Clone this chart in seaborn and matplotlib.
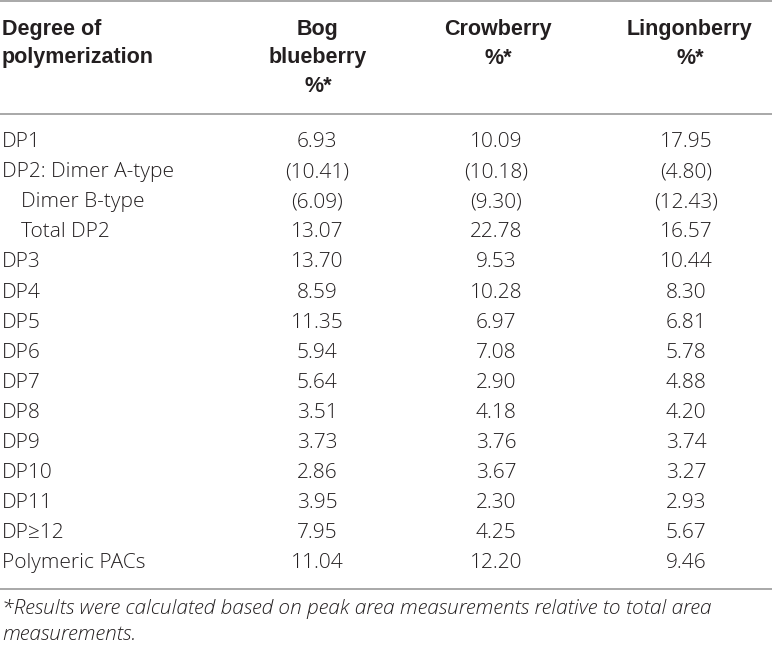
import matplotlib.pyplot as plt
import seaborn as sns

# Table content
header_label = "Degree of\npolymerization"
species = ["Bog\nblueberry\n%*", "Crowberry\n%*", "Lingonberry\n%*"]
row_labels = ["DP1", "DP2: Dimer A-type", "Dimer B-type", "Total DP2", "DP3", "DP4",
              "DP5", "DP6", "DP7", "DP8", "DP9", "DP10", "DP11", "DP\u226512",
              "Polymeric PACs"]
indented = ["Dimer B-type", "Total DP2"]
bog_blueberry = ["6.93", "(10.41)", "(6.09)", "13.07", "13.70", "8.59", "11.35", "5.94",
                 "5.64", "3.51", "3.73", "2.86", "3.95", "7.95", "11.04"]
crowberry = ["10.09", "(10.18)", "(9.30)", "22.78", "9.53", "10.28", "6.97", "7.08",
             "2.90", "4.18", "3.76", "3.67", "2.30", "4.25", "12.20"]
lingonberry = ["17.95", "(4.80)", "(12.43)", "16.57", "10.44", "8.30", "6.81", "5.78",
               "4.88", "4.20", "3.74", "3.27", "2.93", "5.67", "9.46"]
footnote = ("*Results were calculated based on peak area measurements relative to total area\n"
            "measurements.")

sns.set_style("white")
plt.rcParams['font.family'] = ['Open Sans', 'DejaVu Sans']

fig = plt.figure(figsize=(7.72, 6.46), dpi=100)
ax = fig.add_axes([0, 0, 1, 1])
ax.set_xlim(0, 772)
ax.set_ylim(646, 0)
ax.axis('off')

ink = '#231f20'
rule = '#9a9a9a'
fs = 15

# horizontal rules
for y in [1, 114, 589]:
    ax.axhline(y, color=rule, lw=1.2)

col_x = [317, 496, 686]
head_x = [318, 498, 690]


def lines(x, y, s, step, **kw):
    for k, part in enumerate(s.split('\n')):
        ax.text(x, y + k * step, part, va='center', color=ink, **kw)


# header
lines(2, 29, header_label, 29, ha='left', fontsize=15.5, fontweight='bold',
      family='Liberation Sans')
for x, name in zip(head_x, species):
    lines(x, 29, name, 29, ha='center', fontsize=15.5, fontweight='bold',
          family='Liberation Sans')

# body
y0, dy = 142, 30.1
for i, lab in enumerate(row_labels):
    y = y0 + i * dy
    x = 21 if lab in indented else 2
    ax.text(x, y, lab, ha='left', va='center', fontsize=fs, color=ink, fontweight='light')
    for cx, col in zip(col_x, [bog_blueberry, crowberry, lingonberry]):
        ax.text(cx, y, col[i], ha='center', va='center', fontsize=fs, color=ink,
                fontweight='light')

lines(2, 609, footnote, 26, ha='left', fontsize=fs, style='italic', fontweight='light')

fig.savefig('out.png', dpi=100)
